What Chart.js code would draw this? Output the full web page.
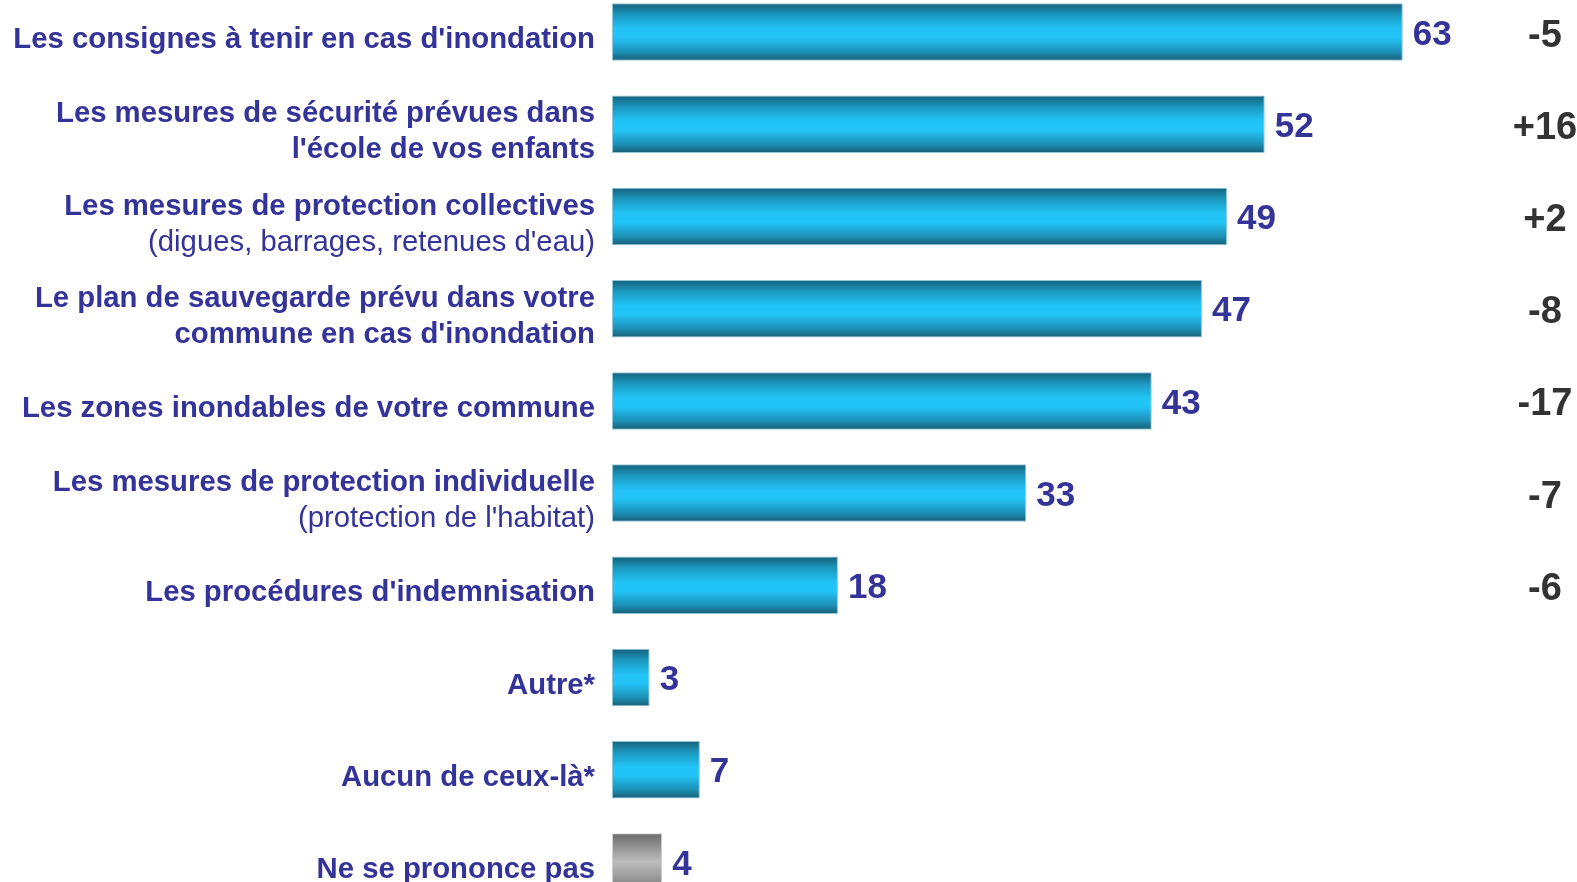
<!DOCTYPE html>
<html><head><meta charset="utf-8">
<script src="https://cdn.jsdelivr.net/npm/chart.js@4.4.1/dist/chart.umd.min.js"></script>
<style>
html,body{margin:0;padding:0;background:#fff;overflow:hidden;width:1577px;height:882px;font-family:"Liberation Sans",Arial,sans-serif;}
#wrap{position:absolute;left:0;top:-14px;width:1577px;height:922px;}
</style></head><body>
<div id="wrap"><canvas id="c"></canvas></div>
<script>
const mainLines = [
  ["Les consignes à tenir en cas d'inondation"],
  ["Les mesures de sécurité prévues dans", "l'école de vos enfants"],
  ["Les mesures de protection collectives"],
  ["Le plan de sauvegarde prévu dans votre", "commune en cas d'inondation"],
  ["Les zones inondables de votre commune"],
  ["Les mesures de protection individuelle"],
  ["Les procédures d'indemnisation"],
  ["Autre*"],
  ["Aucun de ceux-là*"],
  ["Ne se prononce pas"]
];
const subLines = ["", "", "(digues, barrages, retenues d'eau)", "", "", "(protection de l'habitat)", "", "", "", ""];
const values = [63, 52, 49, 47, 43, 33, 18, 3, 7, 4];
const diffs = ["-5", "+16", "+2", "-8", "-17", "-7", "-6", "", "", ""];
const greyIndex = [9];

const categories = mainLines.map(l => l.join(' '));
const TEXT = '#333399';
const FONT = '"Liberation Sans", Arial, sans-serif';

const gradPlugin = {
  id: 'grad',
  beforeDatasetsDraw(chart) {
    const c = chart.ctx;
    const meta = chart.getDatasetMeta(0);
    meta.data.forEach((el, i) => {
      const top = el.y - el.height / 2, bot = el.y + el.height / 2;
      const g = c.createLinearGradient(0, top, 0, bot);
      if (greyIndex.includes(i)) {
        g.addColorStop(0, '#6a6a6a');
        g.addColorStop(0.5, '#bdbdbd');
        g.addColorStop(1, '#7a7a7a');
      } else {
        g.addColorStop(0, '#15607a');
        g.addColorStop(0.2, '#1c98bf');
        g.addColorStop(0.45, '#22c4f8');
        g.addColorStop(0.6, '#22c4f8');
        g.addColorStop(0.85, '#1c8fb4');
        g.addColorStop(1, '#165d75');
      }
      el.options.backgroundColor = g;
    });
  },
  afterDatasetsDraw(chart) {
    const c = chart.ctx;
    const meta = chart.getDatasetMeta(0);
    c.save();
    meta.data.forEach((el, i) => {
      const yc = el.y;
      c.fillStyle = TEXT;
      c.font = 'bold 35px ' + FONT;
      c.textAlign = 'left';
      c.textBaseline = 'middle';
      c.fillText(String(values[i]), el.x + 10, yc + 3);
      if (diffs[i]) {
        c.fillStyle = '#333333';
        c.font = 'bold 38px ' + FONT;
        c.textAlign = 'center';
        c.fillText(diffs[i], 1545, yc + 4);
      }
      const lines = mainLines[i].map(t => ({t, b: true}));
      if (subLines[i]) lines.push({t: subLines[i], b: false});
      const lh = 36;
      const start = yc + 8 - (lines.length - 1) * lh / 2;
      c.textAlign = 'right';
      c.fillStyle = TEXT;
      lines.forEach((ln, k) => {
        c.font = (ln.b ? 'bold ' : '') + '29.3px ' + FONT;
        c.fillText(ln.t, 595, start + k * lh);
      });
    });
    c.restore();
  }
};

function build() {
  new Chart(document.getElementById('c'), {
    type: 'bar',
    data: {
      labels: categories,
      datasets: [{
        data: values,
        backgroundColor: '#22c4f8',
        borderColor: values.map((v, i) => greyIndex.includes(i) ? '#d0d0d0' : '#8fc6d8'),
        borderWidth: 1,
        borderSkipped: false,
        barPercentage: 0.8,
        categoryPercentage: 0.78
      }]
    },
    options: {
      indexAxis: 'y',
      responsive: true,
      maintainAspectRatio: false,
      animation: false,
      layout: { padding: { left: 612, right: 11, top: 0, bottom: 0 } },
      plugins: { legend: { display: false }, tooltip: { enabled: false } },
      scales: {
        x: { display: false, min: 0, max: 76 },
        y: { display: false }
      }
    },
    plugins: [gradPlugin]
  });
}
Promise.all([
  document.fonts.load('bold 27px "Liberation Sans"'),
  document.fonts.load('27px "Liberation Sans"')
]).then(build, build);
</script>
</body></html>
